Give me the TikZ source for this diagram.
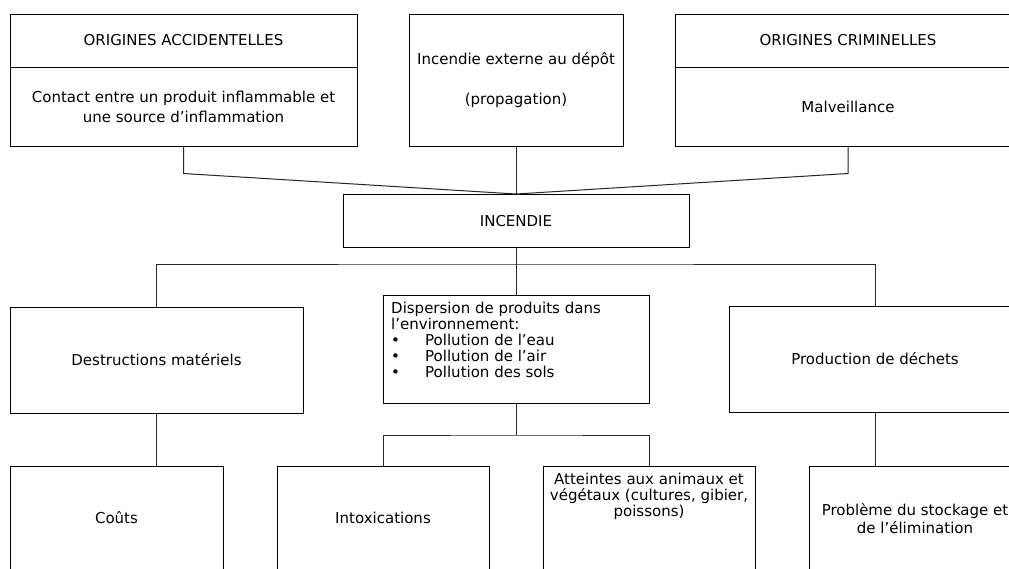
\documentclass[tikz,border=0pt]{standalone}
\usepackage{fontspec}
\setmainfont{DejaVu Sans}
\begin{document}
\begin{tikzpicture}[x=1pt,y=-1pt,
  every node/.style={font=\fontsize{15}{18}\selectfont},
  box/.style={draw=black,line width=1pt,rectangle,inner sep=0pt,align=center},
  txt/.style={inner sep=0pt,align=center},
  link/.style={draw=black!85,line width=1pt}]
\useasboundingbox (0,0) rectangle (1009,568);
\clip (0,0) rectangle (1009,568);
\fill[white] (0,0) rectangle (1009,568);

% top row: causes
\node[box,minimum width=347pt,minimum height=53pt] (accH) at (183.5,40.5) {ORIGINES ACCIDENTELLES};
\node[box,minimum width=347pt,minimum height=79pt,font=\fontsize{15}{20}\selectfont] (accB) at (183.5,106.5)
  {Contact entre un produit inflammable et\\une source d’inflammation};
\node[box,minimum width=214pt,minimum height=132pt,font=\fontsize{15}{40}\selectfont] (ext) at (516,80)
  {Incendie externe au dépôt\\(propagation)};
\node[box,minimum width=346pt,minimum height=53pt] (crimH) at (848,40.5) {ORIGINES CRIMINELLES};
\node[box,minimum width=346pt,minimum height=79pt] (crimB) at (848,106.5) {Malveillance};

% central event
\node[box,minimum width=346pt,minimum height=53pt] (inc) at (516,221) {INCENDIE};

% second row: direct consequences
\node[box,minimum width=293pt,minimum height=106pt] (dest) at (156.5,360) {Destructions matériels};
\node[box,minimum width=266pt,minimum height=108pt] (disp) at (516,349) {};
\node[txt,anchor=north west,align=left,font=\fontsize{15}{16}\selectfont] (dispT) at (391,302)
  {Dispersion de produits dans\\
   l’environnement:\\
   \makebox[34pt][l]{•}Pollution de l’eau\\
   \makebox[34pt][l]{•}Pollution de l’air\\
   \makebox[34pt][l]{•}Pollution des sols};
\node[box,minimum width=292pt,minimum height=106pt] (prod) at (875,359) {Production de déchets};

% third row: effects
\node[box,minimum width=213pt,minimum height=104pt] (couts) at (116.5,518) {Coûts};
\node[box,minimum width=212pt,minimum height=104pt] (intox) at (383,518) {Intoxications};
\node[box,minimum width=212pt,minimum height=104pt] (att) at (649,518) {};
\node[txt,font=\fontsize{15}{16}\selectfont] (attT) at (649,496)
  {Atteintes aux animaux et\\végétaux (cultures, gibier,\\poissons)};
\node[box,minimum width=212pt,minimum height=104pt] (prob) at (915,518) {};
\node[txt] (probT) at (915,519) {Problème du stockage et\\de l’élimination};

% connectors between the levels
\draw[link] (accB.south) -- ++(0,27) -- (inc.north);
\draw[link] (crimB.south) -- ++(0,27) -- (inc.north);
\draw[link] (ext.south) -- (inc.north);

\coordinate (hub) at (516,264);
\draw[link] (inc.south) -- (disp.north);
\draw[link] (dest.north) |- (hub) -| (prod.north);

\draw[link] (dest.south) -- (dest.south |- couts.north);
\coordinate (hubB) at (516,435);
\draw[link] (disp.south) -- (hubB);
\draw[link] (intox.north) |- (hubB) -| (att.north);
\draw[link] (prod.south) -- (prod.south |- prob.north);
\end{tikzpicture}
\end{document}
